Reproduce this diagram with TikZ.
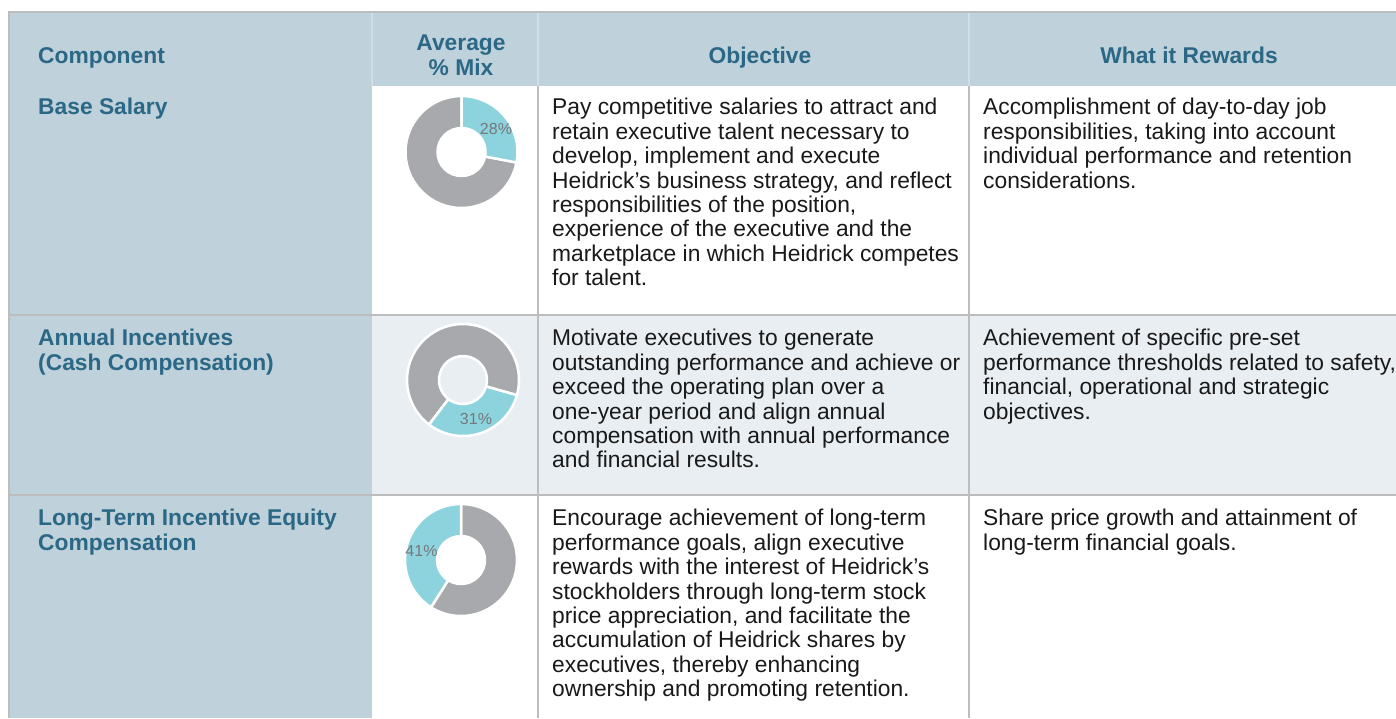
\documentclass[tikz,border=0pt]{standalone}
\usepackage{fontspec}
\setmainfont{Liberation Sans}
\usetikzlibrary{calc}
\definecolor{hdrblue}{HTML}{BFD1DB}
\definecolor{rowgray}{HTML}{E9EEF2}
\definecolor{rulegray}{HTML}{BDBDBD}
\definecolor{hdrtext}{HTML}{2B6886}
\definecolor{donutgray}{HTML}{A7A9AC}
\definecolor{donutcyan}{HTML}{8DD3DE}
\definecolor{pcttext}{HTML}{76787B}
\definecolor{hdrsep}{HTML}{D3DEE4}
\begin{document}
\begin{tikzpicture}[x=1pt,y=-1pt,
  body/.style={anchor=north west, inner sep=0pt, align=left, font=\fontsize{22.8}{24.4}\selectfont, text=black!90},
  head/.style={anchor=base, inner sep=0pt, align=center, font=\fontsize{22.8}{25}\selectfont\bfseries, text=hdrtext},
  comp/.style={anchor=north west, inner sep=0pt, align=left, font=\fontsize{22.8}{24.4}\selectfont\bfseries, text=hdrtext},
  pct/.style={inner sep=0pt, font=\fontsize{16}{16}\selectfont, text=pcttext},
  seg/.style={draw=white, line width=2.5pt},
  rulerow/.style={rulegray, line width=2pt},
]
\useasboundingbox (0,0) rectangle (1396,718);
% backgrounds
\fill[white] (0,0) rectangle (1396,718);
\fill[hdrblue] (9,12) rectangle (1396,86);
\fill[hdrblue] (9,86) rectangle (372,718);
\fill[rowgray] (372,315) rectangle (1396,495);
% header separators
\draw[hdrsep, line width=1.5pt] (372,12) -- (372,86);
\draw[hdrsep, line width=1.5pt] (538,12) -- (538,86);
\draw[hdrsep, line width=1.5pt] (969,12) -- (969,86);
% rules
\draw[rulerow] (538,86) -- (538,718);
\draw[rulerow] (969,86) -- (969,718);
\draw[rulerow] (9,315) -- (1396,315);
\draw[rulerow] (9,495) -- (1396,495);
\draw[rulerow] (8,12) -- (1396,12);
\draw[rulerow] (9,11) -- (9,718);

% header texts
\node[head, anchor=base west] (hcomp) at (38,63.3) {Component};
\node[head, anchor=north] (hmix) at (461,32.5) {\strut Average\\\% Mix};
\node[head] (hobj) at (760,63.3) {Objective};
\node[head] (hrew) at (1189,63.3) {What it Rewards};

% components
\node[comp] (c1) at (38,97.6) {\strut Base Salary};
\node[comp] (c2) at (38,328.6) {\strut Annual Incentives\\(Cash Compensation)};
\node[comp] (c3) at (38,508.6) {\strut Long-Term Incentive Equity\\Compensation};

% objectives
\node[body] (o1) at (552,97.6) {\strut Pay competitive salaries to attract and\\retain executive talent necessary to\\develop, implement and execute\\Heidrick’s business strategy, and reflect\\responsibilities of the position,\\experience of the executive and the\\marketplace in which Heidrick competes\\for talent.};
\node[body] (o2) at (552,328.6) {\strut Motivate executives to generate\\outstanding performance and achieve or\\exceed the operating plan over a\\one-year period and align annual\\compensation with annual performance\\and financial results.};
\node[body] (o3) at (552,508.6) {\strut Encourage achievement of long-term\\performance goals, align executive\\rewards with the interest of Heidrick’s\\stockholders through long-term stock\\price appreciation, and facilitate the\\accumulation of Heidrick shares by\\executives, thereby enhancing\\ownership and promoting retention.};

% rewards
\node[body] (r1) at (983,97.6) {\strut Accomplishment of day-to-day job\\responsibilities, taking into account\\individual performance and retention\\considerations.};
\node[body] (r2) at (983,328.6) {\strut Achievement of specific pre-set\\performance thresholds related to safety,\\financial, operational and strategic\\objectives.};
\node[body] (r3) at (983,508.6) {\strut Share price growth and attainment of\\long-term financial goals.};

% donut 1 (28%)
\coordinate (d1) at (461.5,152);
\fill[donutgray, seg] ($(d1)+(10.8:56)$) arc[start angle=10.8, end angle=270, radius=56] -- ($(d1)+(270:24)$) arc[start angle=270, end angle=10.8, radius=24] -- cycle;
\fill[donutcyan, seg] ($(d1)+(-90:56)$) arc[start angle=-90, end angle=10.8, radius=56] -- ($(d1)+(10.8:24)$) arc[start angle=10.8, end angle=-90, radius=24] -- cycle;
\node[pct] (p1) at (496,129) {28\%};

% donut 2 (31%)
\coordinate (d2) at (463,380);
\fill[donutgray, seg] ($(d2)+(127.3:56)$) arc[start angle=127.3, end angle=375.7, radius=56] -- ($(d2)+(375.7:24)$) arc[start angle=375.7, end angle=127.3, radius=24] -- cycle;
\fill[donutcyan, seg] ($(d2)+(15.7:56)$) arc[start angle=15.7, end angle=127.3, radius=56] -- ($(d2)+(127.3:24)$) arc[start angle=127.3, end angle=15.7, radius=24] -- cycle;
\node[pct] (p2) at (476,419) {31\%};

% donut 3 (41%)
\coordinate (d3) at (461,560);
\fill[donutgray, seg] ($(d3)+(-90:56)$) arc[start angle=-90, end angle=122.4, radius=56] -- ($(d3)+(122.4:24)$) arc[start angle=122.4, end angle=-90, radius=24] -- cycle;
\fill[donutcyan, seg] ($(d3)+(-237.6:56)$) arc[start angle=-237.6, end angle=-90, radius=56] -- ($(d3)+(-90:24)$) arc[start angle=-90, end angle=-237.6, radius=24] -- cycle;
\node[pct] (p3) at (421.5,551) {41\%};
\end{tikzpicture}
\end{document}
